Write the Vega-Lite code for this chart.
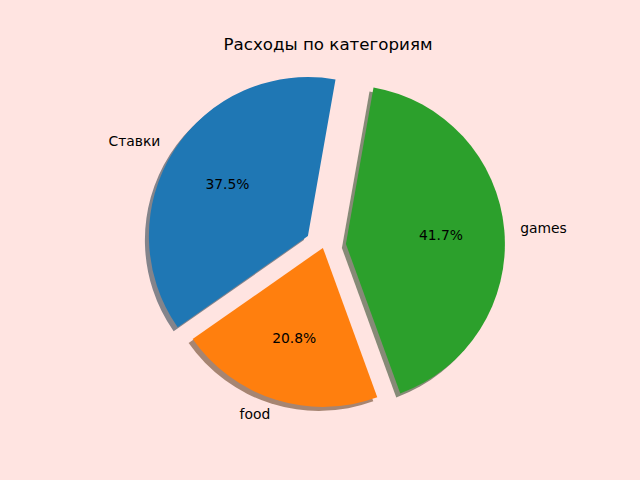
{
  "$schema": "https://vega.github.io/schema/vega-lite/v6.json",
  "autosize": {"type": "none"},
  "padding": 0,
  "width": 647,
  "height": 492,
  "background": "#ffe4e1",
  "view": {"stroke": null},
  "config": {"font": "DejaVu Sans"},
  "title": {"text": "Расходы по категориям", "font": "DejaVu Sans", "fontSize": 16.67, "fontWeight": "normal", "color": "#000000", "anchor": "middle", "offset": -67, "baseline": "alphabetic", "dx": 4.5},
  "data": {"values": [
    {"category": "Ставки", "value": 9},
    {"category": "food", "value": 5},
    {"category": "games", "value": 10}
  ]},
  "transform": [
    {"stack": "value", "groupby": [], "as": ["v0", "v1"]},
    {"joinaggregate": [{"op": "sum", "field": "value", "as": "total"}]},
    {"calculate": "datum.value / datum.total", "as": "pct"},
    {"calculate": "(datum.v0 + datum.v1) / 2", "as": "mid"}
  ],
  "layer": [
    {
      "transform": [{"filter": {"field": "category", "equal": "Ставки"}}],
      "mark": {"type": "arc", "radius": 159, "fill": "#092436", "opacity": 0.5, "xOffset": -19.6, "yOffset": -5.9},
      "encoding": {
        "theta": {"field": "v0", "type": "quantitative", "scale": {"domain": [0, 24], "range": [0.174533, -6.108652]}},
        "theta2": {"field": "v1"}
      }
    },
    {
      "transform": [{"filter": {"field": "category", "equal": "food"}}],
      "mark": {"type": "arc", "radius": 159, "fill": "#4d2604", "opacity": 0.5, "xOffset": -4.6, "yOffset": 5.9},
      "encoding": {
        "theta": {"field": "v0", "type": "quantitative", "scale": {"domain": [0, 24], "range": [0.174533, -6.108652]}},
        "theta2": {"field": "v1"}
      }
    },
    {
      "transform": [{"filter": {"field": "category", "equal": "games"}}],
      "mark": {"type": "arc", "radius": 159, "fill": "#0d300d", "opacity": 0.5, "xOffset": 18.4, "yOffset": 2.0},
      "encoding": {
        "theta": {"field": "v0", "type": "quantitative", "scale": {"domain": [0, 24], "range": [0.174533, -6.108652]}},
        "theta2": {"field": "v1"}
      }
    },
    {
      "transform": [{"filter": {"field": "category", "equal": "Ставки"}}],
      "mark": {"type": "arc", "radius": 159, "xOffset": -15.6, "yOffset": -9.9},
      "encoding": {
        "theta": {"field": "v0", "type": "quantitative", "scale": {"domain": [0, 24], "range": [0.174533, -6.108652]}},
        "theta2": {"field": "v1"},
        "color": {"field": "category", "type": "nominal", "scale": {"domain": ["Ставки", "food", "games"], "range": ["#1f77b4", "#ff7f0e", "#2ca02c"]}, "legend": null}
      }
    },
    {
      "transform": [{"filter": {"field": "category", "equal": "food"}}],
      "mark": {"type": "arc", "radius": 159, "xOffset": -0.6, "yOffset": 1.9},
      "encoding": {
        "theta": {"field": "v0", "type": "quantitative", "scale": {"domain": [0, 24], "range": [0.174533, -6.108652]}},
        "theta2": {"field": "v1"},
        "color": {"field": "category", "type": "nominal", "scale": {"domain": ["Ставки", "food", "games"], "range": ["#1f77b4", "#ff7f0e", "#2ca02c"]}, "legend": null}
      }
    },
    {
      "transform": [{"filter": {"field": "category", "equal": "games"}}],
      "mark": {"type": "arc", "radius": 159, "xOffset": 22.4, "yOffset": -2.0},
      "encoding": {
        "theta": {"field": "v0", "type": "quantitative", "scale": {"domain": [0, 24], "range": [0.174533, -6.108652]}},
        "theta2": {"field": "v1"},
        "color": {"field": "category", "type": "nominal", "scale": {"domain": ["Ставки", "food", "games"], "range": ["#1f77b4", "#ff7f0e", "#2ca02c"]}, "legend": null}
      }
    },
    {
      "transform": [{"filter": {"field": "category", "equal": "Ставки"}}],
      "mark": {"type": "text", "radius": 175, "align": "right", "baseline": "middle", "fontSize": 13.89, "color": "#000000", "xOffset": -15.6, "yOffset": -9.9},
      "encoding": {
        "theta": {"field": "mid", "type": "quantitative", "stack": null, "scale": {"domain": [0, 24], "range": [0.174533, -6.108652]}},
        "text": {"field": "category"}
      }
    },
    {
      "transform": [{"filter": {"field": "category", "equal": "food"}}],
      "mark": {"type": "text", "radius": 175, "align": "right", "baseline": "middle", "fontSize": 13.89, "color": "#000000", "xOffset": -0.6, "yOffset": 1.9},
      "encoding": {
        "theta": {"field": "mid", "type": "quantitative", "stack": null, "scale": {"domain": [0, 24], "range": [0.174533, -6.108652]}},
        "text": {"field": "category"}
      }
    },
    {
      "transform": [{"filter": {"field": "category", "equal": "games"}}],
      "mark": {"type": "text", "radius": 175, "align": "left", "baseline": "middle", "fontSize": 13.89, "color": "#000000", "xOffset": 22.4, "yOffset": -2.0},
      "encoding": {
        "theta": {"field": "mid", "type": "quantitative", "stack": null, "scale": {"domain": [0, 24], "range": [0.174533, -6.108652]}},
        "text": {"field": "category"}
      }
    },
    {
      "transform": [{"filter": {"field": "category", "equal": "Ставки"}}],
      "mark": {"type": "text", "radius": 95.4, "align": "center", "baseline": "middle", "fontSize": 13.89, "color": "#000000", "xOffset": -15.6, "yOffset": -9.9},
      "encoding": {
        "theta": {"field": "mid", "type": "quantitative", "stack": null, "scale": {"domain": [0, 24], "range": [0.174533, -6.108652]}},
        "text": {"field": "pct", "type": "quantitative", "format": ".1%"}
      }
    },
    {
      "transform": [{"filter": {"field": "category", "equal": "food"}}],
      "mark": {"type": "text", "radius": 95.4, "align": "center", "baseline": "middle", "fontSize": 13.89, "color": "#000000", "xOffset": -0.6, "yOffset": 1.9},
      "encoding": {
        "theta": {"field": "mid", "type": "quantitative", "stack": null, "scale": {"domain": [0, 24], "range": [0.174533, -6.108652]}},
        "text": {"field": "pct", "type": "quantitative", "format": ".1%"}
      }
    },
    {
      "transform": [{"filter": {"field": "category", "equal": "games"}}],
      "mark": {"type": "text", "radius": 95.4, "align": "center", "baseline": "middle", "fontSize": 13.89, "color": "#000000", "xOffset": 22.4, "yOffset": -2.0},
      "encoding": {
        "theta": {"field": "mid", "type": "quantitative", "stack": null, "scale": {"domain": [0, 24], "range": [0.174533, -6.108652]}},
        "text": {"field": "pct", "type": "quantitative", "format": ".1%"}
      }
    }
  ]
}
